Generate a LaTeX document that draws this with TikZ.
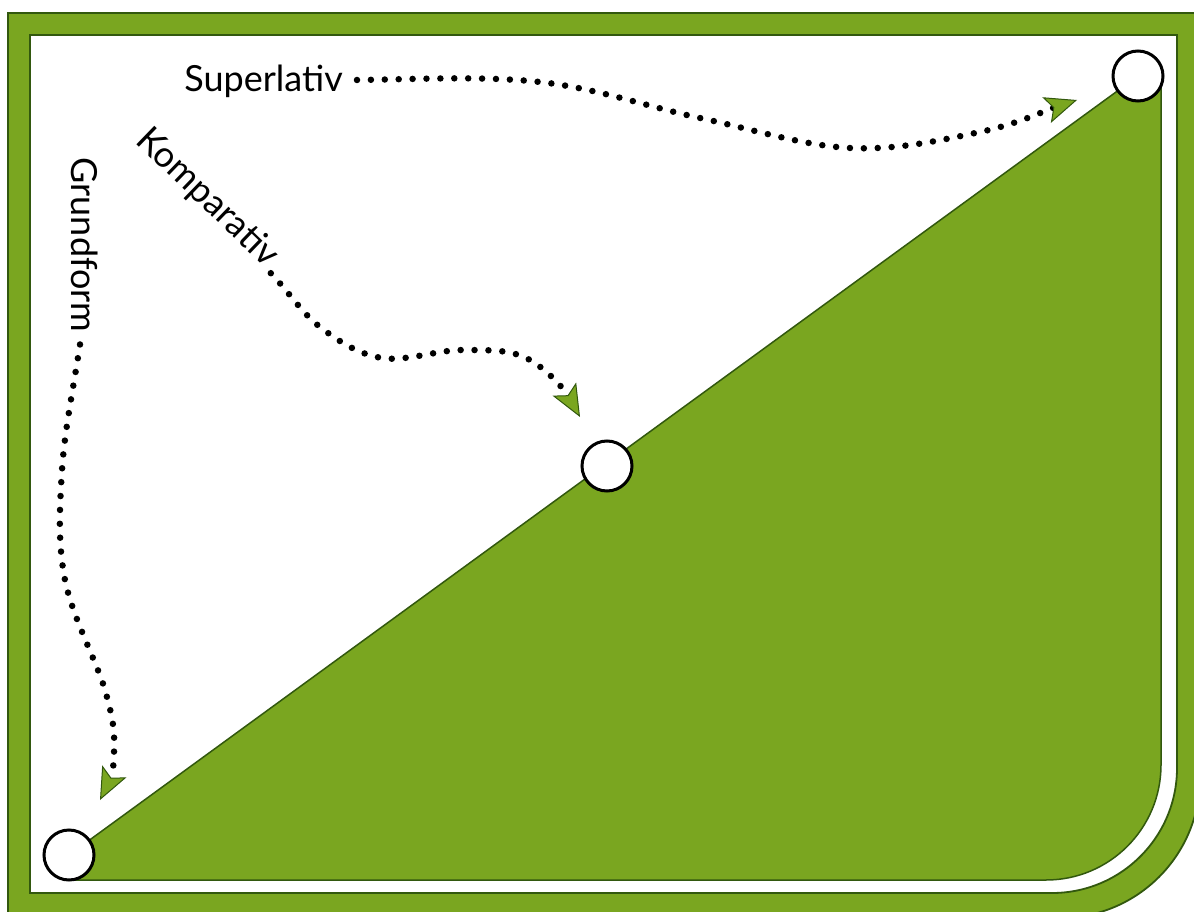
\documentclass[tikz,border=0pt]{standalone}
\usepackage{fontspec}
\setmainfont{Lato}
\usetikzlibrary{arrows.meta,calc}
\definecolor{leaf}{RGB}{122,166,32}
\definecolor{leafdark}{RGB}{50,88,14}
\begin{document}
\begin{tikzpicture}[x=1pt,y=-1pt,
  dotline/.style={line width=6.5pt, line cap=round, dash pattern=on 0pt off 13.9pt,
    -{Stealth[length=32pt,width=27pt,inset=7pt,line width=1pt,fill=leaf,color=leafdark]}},
  circ/.style={circle, draw=black, fill=white, line width=3pt, minimum size=50pt, inner sep=0pt},
  lab/.style={font=\fontsize{36}{40}\selectfont, inner sep=0pt, text=black}]
\useasboundingbox (0,0) rectangle (1194,912);
\clip (0,0) rectangle (1194,912);
\fill[white] (0,0) rectangle (1194,912);
% outer green frame
\fill[leaf, draw=leafdark, line width=1.8pt] (8,13) -- (1200,13) -- (1200,778)
  .. controls (1200,855.3) and (1137.3,918) .. (1060,918) -- (8,918) -- cycle;
% inner white area
\fill[white, draw=leafdark, line width=1.8pt] (30,35) -- (1177,35) -- (1177,768)
  .. controls (1177,837) and (1121,893) .. (1052,893) -- (30,893) -- cycle;
% green region
\fill[leaf, draw=leafdark, line width=1.5pt] (69,855) -- (1138,76) -- (1161,76) -- (1161,765)
  .. controls (1161,828.5) and (1109.5,880) .. (1046,880) -- (69,880) -- cycle;
% labels
\node[lab, anchor=base east] (sup) at (343,92) {Superlativ};
\node[lab, rotate=-44] (komp) at (207,198) {Komparativ};
\node[lab, rotate=-90] (grund) at (85,245) {Grundform};
% targets
\coordinate (tS) at (1077,100);
\coordinate (tK) at (580,417);
\coordinate (tG) at (100,800);
% dotted arrows
\draw[dotline] ([shift={(14,-12)}]sup.base east)
  .. controls (417,79.3) and (482.8,75.7) .. (540,82)
  .. controls (597.2,88.3) and (648.3,107) .. (700,118)
  .. controls (751.7,129) and (803.3,145.7) .. (850,148)
  .. controls (896.7,150.3) and (942.2,140) .. (980,132)
  .. controls (1017.8,124) and (1044.7,110.7) .. (tS);
\draw[dotline] ($(komp.south east)!0.5!(komp.east)+(4,6)$)
  .. controls (288.7,291.7) and (301.8,313) .. (320,327)
  .. controls (338.2,341) and (358.2,354.2) .. (382,358)
  .. controls (405.8,361.8) and (438.3,349.7) .. (463,350)
  .. controls (487.7,350.3) and (510.5,348.8) .. (530,360)
  .. controls (549.5,371.2) and (566,392) .. (tK);
\draw[dotline] ([shift={(-5,12)}]grund.east)
  .. controls (74,384.7) and (64.5,430.3) .. (62,470)
  .. controls (59.5,509.7) and (57.8,543.3) .. (65,580)
  .. controls (72.2,616.7) and (96.8,661.7) .. (105,690)
  .. controls (113.2,718.3) and (114.8,731.7) .. (114,750)
  .. controls (115,765) and (110,780) .. (tG);
% circles
\node[circ] (cA) at (69,855) {};
\node[circ] (cB) at (607,466) {};
\node[circ] (cC) at (1138,76) {};
\end{tikzpicture}
\end{document}
